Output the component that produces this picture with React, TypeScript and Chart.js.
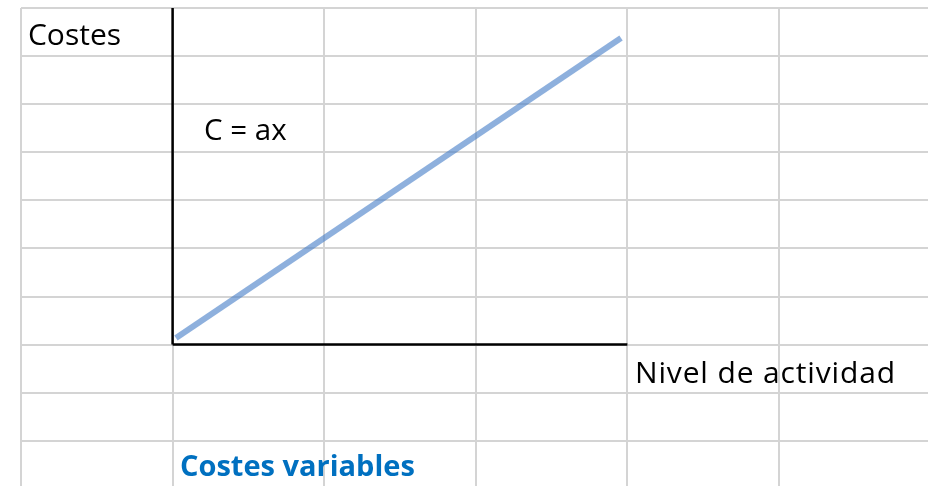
import React, { useEffect, useRef } from "react";
import { Chart, registerables } from "chart.js";

Chart.register(...registerables);

// Sheet grid, in cell units (column index across, row index down)
const columnLines = [0, 1, 2, 3, 4, 5];
const rowLines = [0, 1, 2, 3, 4, 5, 6, 7, 8, 9];
const columnSpan = 5.983;
const rowSpan = 9.94;

// Cost line C = ax, from its first to its last point
const costX = [1.022, 3.958];
const costY = [6.86, 0.624];

// Drawn axes: vertical costs axis and horizontal activity axis
const costsAxisX = [1, 1];
const costsAxisY = [0, 7];
const activityAxisX = [1, 4];
const activityAxisY = [7, 7];

// Sheet labels: text, column, row (baseline), style
const labelTexts = ["Costes", "C = ax", "Nivel de actividad", "Costes variables"];
const labelCols = [0.046, 1.207, 4.05, 1.049];
const labelRows = [0.77, 2.74, 7.8, 9.73];
const labelBold = [false, false, false, true];
const labelSizes = [30, 29.5, 30, 29];
const labelSpacing = [0, 0, 0.85, 0];
const labelColors = ["#000000", "#000000", "#000000", "#0070C0"];

const toPoints = (xs: number[], ys: number[]) => xs.map((x, i) => ({ x, y: ys[i] }));

const labelPlugin = {
  id: "sheetLabels",
  afterDatasetsDraw(chart: any) {
    const { ctx, scales } = chart;
    ctx.save();
    ctx.textAlign = "left";
    ctx.textBaseline = "alphabetic";
    labelTexts.forEach((t, i) => {
      ctx.font = `${labelBold[i] ? "bold " : ""}${labelSizes[i]}px "Open Sans", sans-serif`;
      ctx.letterSpacing = `${labelSpacing[i]}px`;
      ctx.fillStyle = labelColors[i];
      ctx.fillText(t, scales.x.getPixelForValue(labelCols[i]), scales.y.getPixelForValue(labelRows[i]));
    });
    ctx.restore();
  },
};

export default function App() {
  const ref = useRef<HTMLCanvasElement>(null);
  useEffect(() => {
    if (!ref.current) return;
    const chart = new Chart(ref.current, {
      type: "line",
      data: {
        datasets: [
          {
            data: toPoints(costX, costY),
            borderColor: "rgba(72,128,200,0.62)",
            borderWidth: 6,
            borderCapStyle: "butt",
            pointRadius: 0,
          },
          {
            data: toPoints(costsAxisX, costsAxisY),
            borderColor: "#000000",
            borderWidth: 2.5,
            pointRadius: 0,
          },
          {
            data: toPoints(activityAxisX, activityAxisY),
            borderColor: "#000000",
            borderWidth: 2.5,
            pointRadius: 0,
          },
        ],
      },
      options: {
        responsive: false,
        animation: false,
        devicePixelRatio: 1,
        layout: { padding: { left: 21, top: 8, right: 0, bottom: 0 } },
        plugins: { legend: { display: false }, tooltip: { enabled: false } },
        scales: {
          x: {
            type: "linear",
            min: 0,
            max: columnSpan,
            ticks: { display: false },
            afterBuildTicks: (s: any) => {
              s.ticks = columnLines.map((v) => ({ value: v }));
            },
            grid: { color: "#d4d4d4", lineWidth: 2, drawTicks: false },
            border: { display: false },
          },
          y: {
            type: "linear",
            reverse: true,
            min: 0,
            max: rowSpan,
            ticks: { display: false },
            afterBuildTicks: (s: any) => {
              s.ticks = rowLines.map((v) => ({ value: v }));
            },
            grid: { color: "#d4d4d4", lineWidth: 2, drawTicks: false },
            border: { display: false },
          },
        },
      },
      plugins: [labelPlugin],
    });
    return () => chart.destroy();
  }, []);
  return (
    <div style={{ position: "absolute", left: 0, top: 0, width: 928, height: 486, background: "#fff" }}>
      <canvas ref={ref} width={928} height={486} />
    </div>
  );
}
